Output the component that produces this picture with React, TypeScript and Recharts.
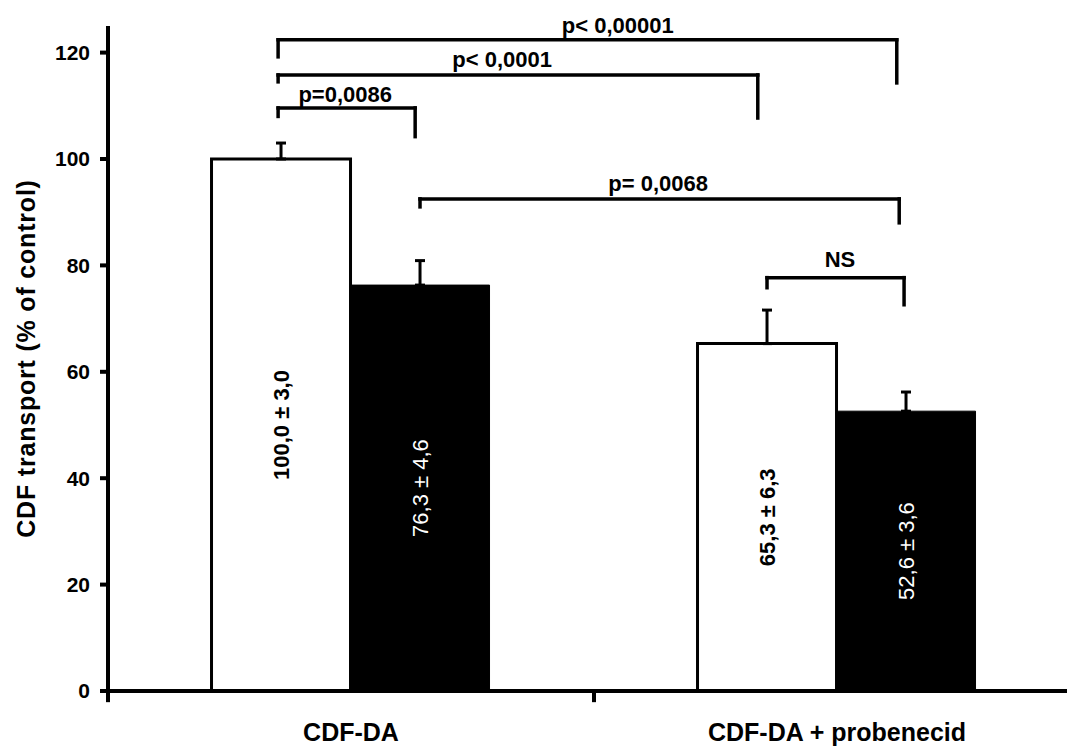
import React from 'react';
import {
  BarChart,
  Bar,
  XAxis,
  YAxis,
  ErrorBar,
  LabelList,
  ReferenceLine,
  ReferenceDot,
} from 'recharts';

const FONT = '"Liberation Sans", Arial, Helvetica, sans-serif';

// Groups on the x axis
const categories = ['CDF-DA', 'CDF-DA + probenecid'];

// White bars (first bar of each group)
const whiteMeans = [100.0, 65.3];
const whiteSem = [3.0, 6.3];

// Black bars (second bar of each group)
const blackMeans = [76.3, 52.6];
const blackSem = [4.6, 3.6];

const yTicks = [0, 20, 40, 60, 80, 100, 120];

// Significance brackets. x is in group units (0..2 across the plot), y in % of control.
const bracketText = ['p=0,0086', 'p< 0,0001', 'p< 0,00001', 'p= 0,0068', 'NS'];
const bracketFrom = [0.35, 0.35, 0.35, 0.642, 1.356];
const bracketTo = [0.632, 1.337, 1.623, 1.628, 1.638];
const bracketTop = [109.6, 115.8, 122.4, 92.5, 77.7];
const bracketLeftEnd = [108.0, 114.5, 119.2, 91.0, 75.8];
const bracketRightEnd = [104.2, 107.7, 114.3, 88.0, 72.6];
const bracketTextX = [0.488, 0.811, 1.049, 1.132, 1.506];
const bracketTextY = [112.2, 118.8, 125.1, 95.5, 81.2];

// Group boundaries on the x axis, where the tick marks sit
const groupEdges = [0, 1, 2];
const GROUPS = categories.length;

// the annotation axis runs 0..1 over the plot width
const gx = (g: number) => g / GROUPS;

const fmt = (v: number) => v.toFixed(1).replace('.', ',');

const data = categories.map((name, i) => ({
  name,
  white: whiteMeans[i],
  whiteErr: [0, whiteSem[i]],
  whiteLabel: `${fmt(whiteMeans[i])} ± ${fmt(whiteSem[i])}`,
  black: blackMeans[i],
  blackErr: [0, blackSem[i]],
  blackLabel: `${fmt(blackMeans[i])} ± ${fmt(blackSem[i])}`,
}));

const barLabel = (color: string, weight: string) => (props: any) => {
  const vb = props.viewBox || props;
  const x = Number(vb.x ?? props.x);
  const y = Number(vb.y ?? props.y);
  const w = Number(vb.width ?? props.width);
  const h = Number(vb.height ?? props.height);
  const cx = x + w / 2;
  const cy = y + h / 2;
  return (
    <text
      x={cx}
      y={cy}
      transform={`rotate(-90 ${cx} ${cy})`}
      textAnchor="middle"
      dominantBaseline="central"
      fill={color}
      fontSize={22}
      fontWeight={weight}
      fontFamily={FONT}
    >
      {props.value}
    </text>
  );
};

const yLabel = (props: any) => {
  const vb = props.viewBox || {};
  const x = Number(vb.x ?? 0) + 27;
  const y = Number(vb.y ?? 0) + Number(vb.height ?? 0) / 2;
  return (
    <text
      x={x}
      y={y}
      transform={`rotate(-90 ${x} ${y})`}
      textAnchor="middle"
      fill="#000"
      fontSize={25}
      fontWeight="bold"
      fontFamily={FONT}
      letterSpacing={0.8}
    >
      CDF transport (% of control)
    </text>
  );
};

const lineStyle = { stroke: '#000', strokeWidth: 3.5, strokeLinecap: 'square' as const };

export default function App() {
  return (
    <div style={{ width: 1067, height: 742, overflow: 'hidden', fontFamily: FONT, background: '#fff' }}>
      <BarChart
        width={1072}
        height={742}
        data={data}
        margin={{ top: 18, right: 0, bottom: 9, left: 0 }}
        barCategoryGap="21.3%"
        barGap={0}
      >
        <XAxis
          dataKey="name"
          tickLine={false}
          tickSize={0}
          tickMargin={32}
          height={50}
          interval={0}
          axisLine={{ stroke: '#000', strokeWidth: 4 }}
          tick={{ fill: '#000', fontSize: 25, fontWeight: 'bold', fontFamily: FONT }}
        />
        <XAxis xAxisId="ann" type="number" domain={[0, 1]} allowDataOverflow hide />
        <YAxis
          domain={[0, 125]}
          ticks={yTicks}
          interval={0}
          allowDataOverflow
          width={100}
          tickSize={8}
          tickMargin={10}
          axisLine={{ stroke: '#000', strokeWidth: 4 }}
          tickLine={{ stroke: '#000', strokeWidth: 4 }}
          tick={{ fill: '#000', fontSize: 21, fontWeight: 'bold', fontFamily: FONT }}
          label={yLabel}
        />
        <Bar dataKey="white" fill="#fff" stroke="#000" strokeWidth={3} isAnimationActive={false}>
          <ErrorBar dataKey="whiteErr" width={5} stroke="#000" strokeWidth={3} direction="y" />
          <LabelList dataKey="whiteLabel" content={barLabel('#000', 'bold')} />
        </Bar>
        <Bar dataKey="black" fill="#000" stroke="#000" strokeWidth={1} isAnimationActive={false}>
          <ErrorBar dataKey="blackErr" width={5} stroke="#000" strokeWidth={3} direction="y" />
          <LabelList dataKey="blackLabel" content={barLabel('#fff', 'normal')} />
        </Bar>

        {groupEdges.map((g) => (
          <ReferenceLine
            key={`edge-${g}`}
            xAxisId="ann"
            ifOverflow="visible"
            segment={[
              { x: gx(g), y: 0 },
              { x: gx(g), y: -2.1 },
            ]}
            stroke="#000"
            strokeWidth={4}
          />
        ))}

        {bracketText.map((t, i) => [
          <ReferenceLine
            key={`bl-${i}`}
            xAxisId="ann"
            ifOverflow="visible"
            segment={[
              { x: gx(bracketFrom[i]), y: bracketLeftEnd[i] },
              { x: gx(bracketFrom[i]), y: bracketTop[i] },
            ]}
            {...lineStyle}
          />,
          <ReferenceLine
            key={`bt-${i}`}
            xAxisId="ann"
            ifOverflow="visible"
            segment={[
              { x: gx(bracketFrom[i]), y: bracketTop[i] },
              { x: gx(bracketTo[i]), y: bracketTop[i] },
            ]}
            {...lineStyle}
          />,
          <ReferenceLine
            key={`br-${i}`}
            xAxisId="ann"
            ifOverflow="visible"
            segment={[
              { x: gx(bracketTo[i]), y: bracketTop[i] },
              { x: gx(bracketTo[i]), y: bracketRightEnd[i] },
            ]}
            {...lineStyle}
          />,
          <ReferenceDot
            key={`bx-${i}`}
            xAxisId="ann"
            ifOverflow="visible"
            x={gx(bracketTextX[i])}
            y={bracketTextY[i]}
            r={1}
            fill="none"
            stroke="none"
            label={{
              value: t,
              position: 'center',
              fill: '#000',
              fontSize: 22,
              fontWeight: 'bold',
              fontFamily: FONT,
            }}
          />,
        ])}
      </BarChart>
    </div>
  );
}
